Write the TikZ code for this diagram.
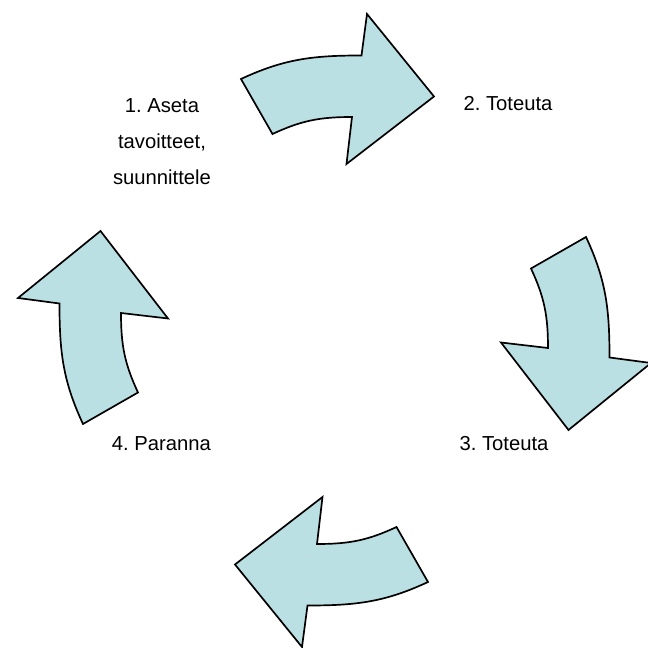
\documentclass[tikz,border=0pt]{standalone}
\usepackage{fontspec}
\setmainfont{Liberation Sans}
\frenchspacing
\definecolor{arrowblue}{RGB}{187,224,227}
\tikzset{
	cyclearrow/.style={draw=black, line width=1.2pt, fill=arrowblue, line join=miter},
	phase/.style={font=\fontsize{14.4}{25.7}\selectfont, align=center, inner sep=0pt}
}
\begin{document}
\begin{tikzpicture}[x=0.25mm,y=0.25mm]
		
		\useasboundingbox (-334.5,-317.5) rectangle (313.5,330.5);
		
		% the four arrows, one shape turned a quarter each time
		\foreach \turn in {0,-90,-180,-270}
		\draw[cyclearrow, rotate=\turn] (-93.5,251.5) .. controls (-50,271.8) and (-21,275) .. (27,275) -- (32.5,316.5) -- (99.5,234) -- (12,166.5) -- (17.5,213.5) .. controls (-14.5,213.5) and (-33,210) .. (-62,196.5) -- cycle;
		
		\node[phase] (aseta) at (-172.5,189) {1. Aseta\\tavoitteet,\\suunnittele};
		\node[phase] (toteutaA) at (173.5,227) {2. Toteuta};
		\node[phase] (toteutaB) at (169.5,-113) {3. Toteuta};
		\node[phase] (paranna) at (-173,-113) {4. Paranna};
		
	\end{tikzpicture}
\end{document}
